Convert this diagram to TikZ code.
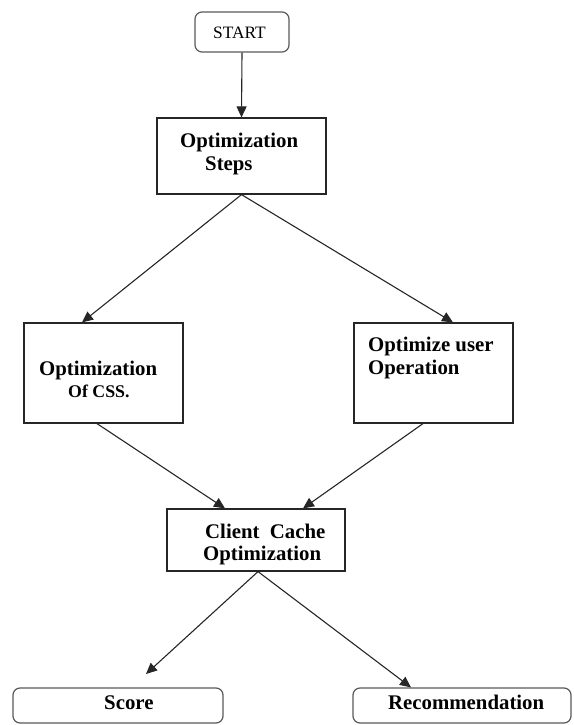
\documentclass[tikz,border=0pt]{standalone}
\usepackage{fontspec}
\setmainfont{Liberation Serif}
\usetikzlibrary{arrows.meta}
\begin{document}
\begin{tikzpicture}[x=1pt,y=-1pt,
  box/.style={draw=black!85, line width=1.2pt, inner sep=0pt},
  rbox/.style={draw=black!65, line width=1.2pt, rounded corners=7pt, inner sep=0pt},
  lbl/.style={font=\fontsize{20.8}{24}\selectfont\bfseries, inner sep=0pt, anchor=base west},
  slbl/.style={font=\fontsize{17.4}{20}\selectfont, inner sep=0pt, anchor=base west},
  arr/.style={draw=black!85, line width=1.1pt, -{Triangle[length=11pt,width=10pt]}}]
\useasboundingbox (0,0) rectangle (573,725);
% boxes
\node[rbox, minimum width=94pt, minimum height=40pt] (start) at (242,32) {};
\node[box, minimum width=169pt, minimum height=76pt] (steps) at (241.5,156) {};
\node[box, minimum width=159pt, minimum height=100pt] (css) at (103.5,373) {};
\node[box, minimum width=159pt, minimum height=100pt] (op) at (433.5,373) {};
\node[box, minimum width=178pt, minimum height=62pt] (client) at (256,540) {};
\node[rbox, minimum width=210pt, minimum height=35pt] (score) at (118,705.5) {};
\node[rbox, minimum width=218pt, minimum height=35pt] (rec) at (462,705.5) {};
% texts
\node[slbl] (tstart) at (213,38) {START};
\node[lbl] (tsteps1) at (180,147) {Optimization};
\node[lbl] (tsteps2) at (205,170) {Steps};
\node[lbl] (tcss1) at (39,375) {Optimization};
\node[lbl, font=\fontsize{17.8}{20}\selectfont\bfseries] (tcss2) at (68,397) {Of CSS.};
\node[lbl] (top1) at (368,351) {Optimize user};
\node[lbl] (top2) at (368,374) {Operation};
\node[lbl] (tcl1) at (205,538) {Client\ \ Cache};
\node[lbl] (tcl2) at (203,560) {Optimization};
\node[lbl] (tscore) at (104,709) {Score};
\node[lbl] (trec) at (388,709) {Recommendation};
% connectors
\coordinate (scoretip) at (146,674);
\draw[arr] (start.south) -- (steps.north);
\draw[arr] (steps.south) -- ([xshift=-21.5pt]css.north);
\draw[arr] (steps.south) -- ([xshift=19.5pt]op.north);
\draw[arr] ([xshift=-6.5pt]css.south) -- ([xshift=-31pt]client.north);
\draw[arr] ([xshift=-10.5pt]op.south) -- ([xshift=47pt]client.north);
\draw[arr] ([xshift=2pt]client.south) -- (scoretip);
\draw[arr] ([xshift=2pt]client.south) -- ([xshift=-51pt]rec.north);
\end{tikzpicture}
\end{document}
